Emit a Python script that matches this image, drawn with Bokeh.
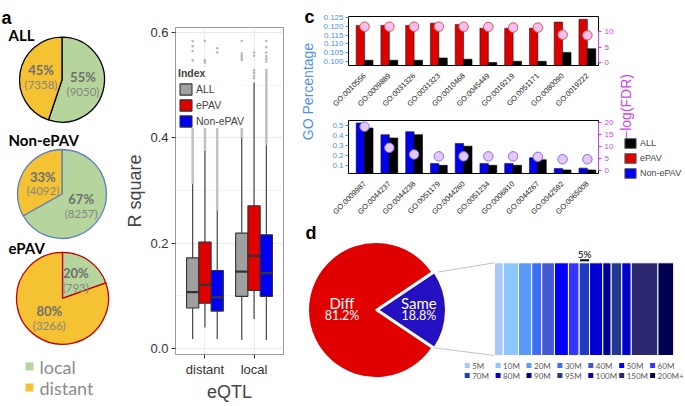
import math
from bokeh.plotting import figure
from bokeh.models import (Range1d, LinearAxis, FixedTicker, NumeralTickFormatter,
                          Legend, LegendItem, Label)
from bokeh.layouts import row, column
from bokeh.embed import file_html
from bokeh.resources import INLINE
from bokeh.core.properties import value

# ======================= DATA =======================
# panel a : local / distant eQTL counts
a_pies = ["ALL", "Non-ePAV", "ePAV"]
a_local = [9050, 8257, 793]
a_distant = [7358, 4092, 3266]
a_classes = ["local", "distant"]

# panel b : R square boxplots (order: distant ALL/ePAV/Non-ePAV, local ALL/ePAV/Non-ePAV)
b_groups = ["distant", "local"]
b_indexes = ["ALL", "ePAV", "Non-ePAV"]
b_low = [0.018, 0.040, 0.018, 0.016, 0.056, 0.016]
b_q1 = [0.077, 0.086, 0.071, 0.099, 0.110, 0.099]
b_med = [0.107, 0.121, 0.097, 0.146, 0.176, 0.143]
b_q3 = [0.172, 0.202, 0.148, 0.219, 0.271, 0.216]
b_high = [0.313, 0.375, 0.262, 0.400, 0.505, 0.387]
b_dense_top = [0.535, 0.535, 0.530, 0.530, 0.505, 0.531]
b_outliers = [
    [0.547, 0.565, 0.574, 0.584],
    [0.543, 0.547, 0.584],
    [0.562, 0.570],
    [0.548, 0.552, 0.556, 0.560, 0.584],
    [0.513, 0.518, 0.523, 0.528, 0.556, 0.562],
    [0.545, 0.550, 0.555, 0.562, 0.572, 0.584],
]

# panel c : GO enrichment
c_top_terms = ["GO:0010556", "GO:0009889", "GO:0031326", "GO:0031323", "GO:0010468",
               "GO:0045449", "GO:0019219", "GO:0051171", "GO:0080090", "GO:0019222"]
c_top_epav = [0.1205, 0.1205, 0.1205, 0.1218, 0.1211, 0.1189, 0.1189, 0.1189, 0.1224, 0.1240]
c_top_all = [0.1006, 0.1006, 0.1006, 0.1019, 0.1012, 0.0993, 0.1000, 0.1000, 0.1051, 0.1072]
c_top_fdr = [11.6, 11.6, 11.6, 11.6, 11.6, 11.5, 11.3, 11.3, 9.0, 8.8]

c_bot_terms = ["GO:0009987", "GO:0044237", "GO:0044238", "GO:0051179", "GO:0044260",
               "GO:0051234", "GO:0006810", "GO:0044267", "GO:0042592", "GO:0065008"]
c_bot_nonepav = [0.521, 0.404, 0.434, 0.119, 0.317, 0.119, 0.119, 0.176, 0.069, 0.072]
c_bot_all = [0.470, 0.371, 0.404, 0.100, 0.290, 0.100, 0.100, 0.155, 0.054, 0.054]
c_bot_fdr = [18.3, 9.5, 6.7, 5.9, 5.9, 5.9, 5.9, 5.7, 4.7, 4.7]
c_legend = ["ALL", "ePAV", "Non-ePAV"]

# panel d : Diff / Same and distance bins of "Same"
d_labels = ["Diff", "Same"]
d_pct = [81.2, 18.8]
d_bins = ["5M", "10M", "20M", "30M", "40M", "50M", "60M",
          "70M", "80M", "90M", "95M", "100M", "150M", "200M+"]
d_bin_pct = [4.9, 8.5, 7.4, 5.6, 7.1, 7.8, 6.0, 5.8, 7.4, 4.7, 5.9, 5.3, 14.9, 8.8]
d_scale_pct = 5

# ======================= STYLE =======================
SANS = value("Liberation Sans")
HUM = value("Lato")
GREEN, YELLOW = "#b6d59c", "#f4c232"
RED, BLUE, GRAY = "#e00000", "#0000f0", "#a0a0a0"
C_BLUE, C_MAG = "#4f8ff0", "#cc44ee"
BIN_COLORS = ["#a8c8f8", "#8cc8ff", "#5a9af8", "#3d6ef5", "#4458d0", "#0000ff", "#3535ff",
              "#1f3cc0", "#0000d0", "#000090", "#1f3a90", "#0000cc", "#2b2870", "#000050"]


def no_align(p):
    try:
        p.frame_align = False
    except Exception:
        pass
    return p


def blank(w, h):
    p = figure(width=w, height=h, x_range=Range1d(0, w), y_range=Range1d(0, h),
               output_backend="svg", toolbar_location=None, min_border=0,
               x_axis_location=None, y_axis_location=None)
    p.grid.visible = False
    p.outline_line_color = None
    return no_align(p)


# ======================= PANEL A =======================
pa = blank(110, 406)          # local x = ref_x ; local y = 406 - ref_y
pie_cx = [61.5, 61.5, 62.0]
pie_cy = [79.2, 193.5, 297.8]
pie_r = [42.5, 44.5, 46.0]
pie_edge = ["#000000", "#5b7fbf", "#c00000"]
title_y = [34, 139, 247]
pa.text(x=[1], y=[406 - 17], text=["a"], text_font=SANS, text_font_style="bold",
        text_font_size="18px", text_baseline="alphabetic")
for i, name in enumerate(a_pies):
    tot = a_local[i] + a_distant[i]
    fl = a_local[i] / tot
    cx, cy, r = pie_cx[i], 406 - pie_cy[i], pie_r[i]
    s = math.pi / 2 - 2 * math.pi * fl
    pa.wedge(x=[cx, cx], y=[cy, cy], radius=r,
             start_angle=[s, math.pi / 2], end_angle=[math.pi / 2, s + 2 * math.pi],
             fill_color=[GREEN, YELLOW], line_color=pie_edge[i], line_width=1.3)
    pa.text(x=[8], y=[406 - title_y[i]], text=[name], text_font=HUM, text_font_style="bold",
            text_font_size="15px", text_baseline="middle")
    mids = [math.pi / 2 - math.pi * fl, math.pi / 2 + math.pi * (1 - fl)]
    counts = [a_local[i], a_distant[i]]
    for m, c in zip(mids, counts):
        lx = cx + 0.5 * r * math.cos(m)
        ly = cy + 0.5 * r * math.sin(m)
        pa.text(x=[lx], y=[ly + 6], text=[f"{round(100 * c / tot)}%"], text_font=HUM,
                text_font_style="bold", text_font_size="13px", text_color="#6e6e6e",
                text_align="center", text_baseline="middle")
        pa.text(x=[lx], y=[ly - 8], text=[f"({c})"], text_font=HUM,
                text_font_size="11.5px", text_color="#858585",
                text_align="center", text_baseline="middle")
for k, (lab, col) in enumerate(zip(a_classes, [GREEN, YELLOW])):
    yy = 406 - (366 + 21 * k)
    pa.scatter(x=[29], y=[yy], marker="square", size=8, fill_color=col, line_color=None)
    pa.text(x=[39], y=[yy], text=[lab], text_font=HUM, text_font_size="18px",
            text_color="#8c8c8c", text_baseline="middle")

# ======================= PANEL B =======================
pb = figure(width=180, height=406, x_range=Range1d(0.4, 2.6), y_range=Range1d(-0.0114, 0.6095),
            output_backend="svg", toolbar_location=None,
            min_border_left=65, min_border_right=7, min_border_top=27, min_border_bottom=52)
no_align(pb)
pb.outline_line_color = "#9a9a9a"
pb.xaxis.ticker = FixedTicker(ticks=[1, 2])
pb.xaxis.major_label_overrides = {1: b_groups[0], 2: b_groups[1]}
pb.yaxis.ticker = FixedTicker(ticks=[0, 0.2, 0.4, 0.6])
pb.yaxis.formatter = NumeralTickFormatter(format="0.0")
pb.xgrid.ticker = FixedTicker(ticks=[1, 2])
pb.ygrid.ticker = FixedTicker(ticks=[0, 0.2, 0.4, 0.6], minor_ticks=[0.1, 0.3, 0.5])
pb.grid.grid_line_color = "#ebebeb"
pb.ygrid.minor_grid_line_color = "#f3f3f3"
for axs in (pb.xaxis, pb.yaxis):
    axs.axis_line_color = None
    axs.major_tick_line_color = "#333333"
    axs.major_tick_out = 4
    axs.major_tick_in = 0
    axs.minor_tick_line_color = None
    axs.major_label_text_font = "Liberation Sans"
    axs.major_label_text_font_size = "13px"
    axs.major_label_text_color = "#333333"
    axs.major_label_standoff = 3
    axs.axis_label_text_font = "Liberation Sans"
    axs.axis_label_text_font_size = "18px"
    axs.axis_label_text_font_style = "normal"
    axs.axis_label_standoff = 2
pb.xaxis.axis_label = "eQTL"
pb.yaxis.axis_label = "R square"

gpos = {g: k + 1 for k, g in enumerate(b_groups)}
dodge = {"ALL": -0.25, "ePAV": 0.0, "Non-ePAV": 0.25}
box_col = {"ALL": GRAY, "ePAV": RED, "Non-ePAV": BLUE}
bx = [gpos[g] + dodge[ix] for g in b_groups for ix in b_indexes]
bidx = [ix for g in b_groups for ix in b_indexes]

pb.segment(x0=bx, y0=b_high, x1=bx, y1=b_dense_top, line_color="#c2c2c2", line_width=2.6)
ox = [x for x, lst in zip(bx, b_outliers) for _ in lst]
oy = [v for lst in b_outliers for v in lst]
pb.scatter(x=ox, y=oy, size=2.6, fill_color="#b5b5b5", line_color=None)
pb.segment(x0=bx, y0=b_q3, x1=bx, y1=b_high, line_color="#333333", line_width=1.1)
pb.segment(x0=bx, y0=b_low, x1=bx, y1=b_q1, line_color="#333333", line_width=1.1)
rends = {}
for ix in b_indexes:
    sel = [k for k in range(6) if bidx[k] == ix]
    rends[ix] = pb.vbar(x=[bx[k] for k in sel], width=0.25,
                        bottom=[b_q1[k] for k in sel], top=[b_q3[k] for k in sel],
                        fill_color=box_col[ix], line_color="#333333", line_width=1.1)
pb.segment(x0=[x - 0.125 for x in bx], y0=b_med, x1=[x + 0.125 for x in bx], y1=b_med,
           line_color="#333333", line_width=2.2)
leg_b = Legend(items=[LegendItem(label=ix, renderers=[rends[ix]]) for ix in b_indexes],
               location=(3, 226), title="Index")
leg_b.title_text_font = "Liberation Sans"
leg_b.title_text_font_size = "10.5px"
leg_b.title_text_font_style = "bold"
leg_b.title_standoff = 3
leg_b.label_text_font = "Liberation Sans"
leg_b.label_text_font_size = "10.5px"
leg_b.glyph_width = 15
leg_b.glyph_height = 14
leg_b.label_height = 14
leg_b.spacing = 2
leg_b.padding = 3
leg_b.margin = 0
leg_b.label_standoff = 3
leg_b.border_line_color = None
leg_b.background_fill_alpha = 1
pb.add_layout(leg_b)
pb.add_layout(Label(x=-56, y=337, x_units="screen", y_units="screen", text="b",
                    text_font="Liberation Sans", text_font_style="bold", text_font_size="18px",
                    text_baseline="alphabetic"))


# ======================= PANEL C =======================
def go_fig(height, mb_top, mb_bottom, terms, first_vals, first_color, all_vals, fdr_vals,
           yr, lticks, lfmt, fr, rticks, circ_fill, circ_line):
    p = figure(width=300, height=height, x_range=Range1d(-0.65, 9.45), y_range=Range1d(*yr),
               output_backend="svg", toolbar_location=None,
               min_border_left=32, min_border_right=16, min_border_top=mb_top,
               min_border_bottom=mb_bottom)
    no_align(p)
    p.extra_y_ranges = {"fdr": Range1d(*fr)}
    p.grid.visible = False
    p.outline_line_color = "black"
    xs = list(range(len(terms)))
    p.vbar(x=[x - 0.17 for x in xs], width=0.34, bottom=yr[0], top=first_vals,
           fill_color=first_color, line_color="#1a1a1a", line_width=0.6)
    p.vbar(x=[x + 0.17 for x in xs], width=0.34, bottom=yr[0], top=all_vals,
           fill_color="black", line_color="black", line_width=0.6)
    p.scatter(x=xs, y=fdr_vals, y_range_name="fdr", size=9.5,
              fill_color=circ_fill, line_color=circ_line, line_width=1)
    xa = p.xaxis[0]
    xa.ticker = FixedTicker(ticks=xs)
    xa.major_label_overrides = {x: t for x, t in zip(xs, terms)}
    xa.major_label_orientation = math.pi / 4
    xa.major_label_text_font = "Liberation Sans"
    xa.major_label_text_font_size = "7.5px"
    xa.major_label_text_color = "#1a1a1a"
    xa.major_label_standoff = 3
    xa.axis_line_color = None
    xa.major_tick_line_color = None
    xa.minor_tick_line_color = None
    ya = p.yaxis[0]
    ya.ticker = FixedTicker(ticks=lticks)
    ya.formatter = NumeralTickFormatter(format=lfmt)
    ya.bounds = (lticks[0], lticks[-1])
    ya.axis_line_color = None
    ya.major_tick_line_color = C_BLUE
    ya.major_tick_out = 3
    ya.major_tick_in = 0
    ya.minor_tick_line_color = None
    ya.major_label_text_color = C_BLUE
    ya.major_label_text_font = "Liberation Sans"
    ya.major_label_text_font_size = "8px"
    ya.major_label_standoff = 2
    ra = LinearAxis(y_range_name="fdr", ticker=FixedTicker(ticks=rticks),
                    bounds=(rticks[0], rticks[-1]))
    ra.axis_line_color = C_MAG
    ra.major_tick_line_color = C_MAG
    ra.major_tick_out = 3
    ra.major_tick_in = 0
    ra.minor_tick_line_color = None
    ra.major_label_text_color = C_MAG
    ra.major_label_text_font = "Liberation Sans"
    ra.major_label_text_font_size = "8px"
    ra.major_label_standoff = 3
    p.add_layout(ra, "right")
    return p


pct = go_fig(114, 16, 40, c_top_terms, c_top_epav, "#dd0000", c_top_all, c_top_fdr,
             (0.0976, 0.1256), [0.100, 0.105, 0.110, 0.115, 0.120, 0.125], "0.000",
             (-0.98, 14.9), [0, 5, 10], "#f5bff0", "#e0504a")
pcb = go_fig(108, 6, 44, c_bot_terms, c_bot_nonepav, "#0000ee", c_bot_all, c_bot_fdr,
             (0.0187, 0.545), [0.1, 0.2, 0.3, 0.4, 0.5], "0.0",
             (-1.25, 20.87), [0, 5, 10, 15, 20], "#e4c8f6", "#8a6af5")

c_lab = blank(26, 222)        # local x = ref_x - 290 ; local y = 222 - ref_y
c_lab.text(x=[14], y=[222 - 16], text=["c"], text_font=SANS, text_font_style="bold",
           text_font_size="18px", text_baseline="alphabetic")
c_lab.text(x=[17.5], y=[222 - 91], text=["GO Percentage"], angle=math.pi / 2,
           text_font=SANS, text_font_size="14px", text_color=C_BLUE,
           text_align="center", text_baseline="middle")

c_right = blank(69, 222)      # local x = ref_x - 616 ; local y = 222 - ref_y
c_right.text(x=[9.5], y=[222 - 106], text=["\u2212log(FDR)"], angle=math.pi / 2,
             text_font=SANS, text_font_size="14px", text_color=C_MAG,
             text_align="center", text_baseline="middle")
leg_cols = {"ALL": "black", "ePAV": "#dd0000", "Non-ePAV": "#0000ee"}
c_items = []
for name in c_legend:
    r = c_right.vbar(x=[-50], top=[-50], bottom=[-60], width=1,
                     fill_color=leg_cols[name], line_color="#555555")
    c_items.append(LegendItem(label=name, renderers=[r]))
leg_c = Legend(items=c_items, location=(7, 43))
leg_c.label_text_font = "Liberation Sans"
leg_c.label_text_font_size = "9px"
leg_c.glyph_width = 14
leg_c.glyph_height = 12
leg_c.label_height = 12
leg_c.spacing = 3
leg_c.padding = 1
leg_c.margin = 0
leg_c.label_standoff = 3
leg_c.border_line_color = None
leg_c.background_fill_alpha = 0
c_right.add_layout(leg_c)

# ======================= PANEL D =======================
pdd = blank(395, 184)         # local x = ref_x - 290 ; local y = 406 - ref_y
pdd.text(x=[15], y=[406 - 232], text=["d"], text_font=SANS, text_font_style="bold",
         text_font_size="18px", text_baseline="alphabetic")
pcx, pcy, PR, EXP = 85.5, 96.5, 68, 2
half = math.pi * d_pct[1] / 100
pdd.wedge(x=[pcx, pcx + EXP], y=[pcy, pcy], radius=PR,
          start_angle=[half, -half], end_angle=[2 * math.pi - half, half],
          fill_color=["#e00000", "#2410c0"], line_color="white", line_width=2)
lab_r = [0.5, 0.63]
lab_ang = [math.pi, 0.0]
for k in range(2):
    lx = pcx + lab_r[k] * PR * math.cos(lab_ang[k])
    pdd.text(x=[lx], y=[pcy + 7], text=[d_labels[k]], text_font=HUM, text_font_size="15px",
             text_color="white", text_align="center", text_baseline="middle")
    pdd.text(x=[lx], y=[pcy - 5], text=[f"{d_pct[k]}%"], text_font=HUM, text_font_size="12.5px",
             text_color="white", text_align="center", text_baseline="middle")

BX0, BW, BY0, BY1 = 204.0, 179.0, 51.0, 143.7
pdd.extra_x_ranges = {"pct": Range1d(-BX0 * 100 / BW, (395 - BX0) * 100 / BW)}
cx_t = pcx + EXP + PR * math.cos(half)
cy_t = pcy + PR * math.sin(half)
cy_b = pcy - PR * math.sin(half)
pdd.segment(x0=[cx_t + 3, cx_t], y0=[cy_t, cy_b], x1=[BX0, BX0], y1=[BY1, BY0],
            line_color="#c4c4c4", line_width=1)
lefts, acc = [], 0.0
for v in d_bin_pct:
    lefts.append(acc)
    acc += v
rights = [l + v for l, v in zip(lefts, d_bin_pct)]
pdd.hbar(y=(BY0 + BY1) / 2, height=BY1 - BY0, left=lefts, right=rights, x_range_name="pct",
         fill_color=BIN_COLORS, line_color="white", line_width=1)
s0 = lefts[d_bins.index("70M")] + 0.5
pdd.segment(x0=[s0], y0=[BY1 + 2.5], x1=[s0 + d_scale_pct], y1=[BY1 + 2.5], x_range_name="pct",
            line_color="black", line_width=2)
pdd.text(x=[s0 + d_scale_pct / 2], y=[BY1 + 9], text=[f"{d_scale_pct}%"], x_range_name="pct",
         text_font=HUM, text_font_size="10px", text_align="center", text_baseline="middle")
sq_x = [176.7 + 30.9 * (k % 7) for k in range(len(d_bins))]
sq_y = [41 - 10 * (k // 7) for k in range(len(d_bins))]
pdd.scatter(x=sq_x, y=sq_y, marker="square", size=5, fill_color=BIN_COLORS, line_color=None)
pdd.text(x=[x + 5 for x in sq_x], y=sq_y, text=d_bins, text_font=HUM, text_font_size="8px",
         text_color="#595959", text_baseline="middle")

# ======================= LAYOUT =======================
layout = row(pa, pb, column(row(c_lab, column(pct, pcb), c_right), pdd))
open("out.html", "w").write(file_html(layout, INLINE))
